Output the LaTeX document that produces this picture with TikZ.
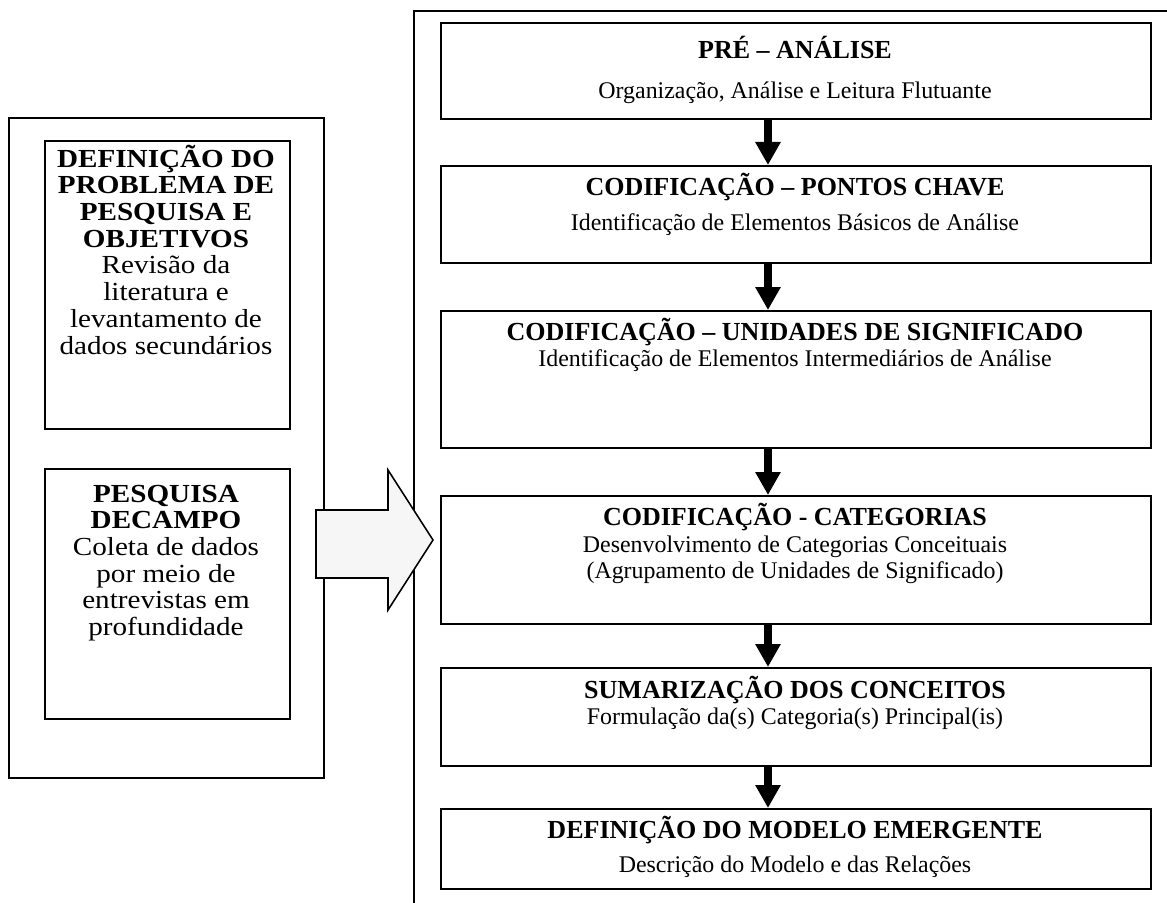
\documentclass[tikz,border=0pt]{standalone}
\usepackage{fontspec}
\setmainfont{Liberation Serif}
\usetikzlibrary{arrows.meta,positioning}

\begin{document}
\begin{tikzpicture}[x=0.025cm, y=-0.025cm, line width=1.1pt,
    box/.style={draw, inner sep=0pt, anchor=north west},
    ttl/.style={font=\fontsize{18.5}{19}\selectfont\bfseries, anchor=base},
    sub/.style={font=\fontsize{17}{19}\selectfont, anchor=base},
    lefttxt/.style={font=\fontsize{18.5}{19}\selectfont, align=center, anchor=north,
      inner sep=0pt, xscale=1.12, transform shape},
    flow/.style={line width=5.5pt, -{Triangle[length=0.575cm, width=0.6cm]}}]
  \clip (0,0) rectangle (1167,903);

  % panel of the analysis
  \node[box, minimum width=20cm, minimum height=24cm] (panel) at (413,10) {};

  % left side
  \node[box, minimum width=7.875cm, minimum height=16.5cm] (prep) at (8,117) {};
  \node[box, minimum width=6.125cm, minimum height=7.2cm] (prob) at (44,140) {};
  \node[box, minimum width=6.125cm, minimum height=6.25cm] (campo) at (44,468) {};
  \node[lefttxt] (probt) at (166,144) {\textbf{DEFINIÇÃO DO}\\\textbf{PROBLEMA DE}\\\textbf{PESQUISA E}\\
    \textbf{OBJETIVOS}\\Revisão da\\literatura e\\levantamento de\\dados secundários};
  \node[lefttxt] (campot) at (166,484) {\textbf{PESQUISA}\\\textbf{DECAMPO}\\Coleta de dados\\por meio de\\
    entrevistas em\\profundidade};

  % big arrow
  \draw[fill=gray!7] (316,510) -- (388,510) -- (388,470) -- (433,540) -- (388,610)
    -- (388,578) -- (316,578) -- cycle;

  % stages
  \node[box, minimum width=17.75cm, minimum height=2.4cm] (pre) at (440,22) {};
  \node[box, minimum width=17.75cm, minimum height=2.425cm] (chave) at (440,165) {};
  \node[box, minimum width=17.75cm, minimum height=3.425cm] (unid) at (440,310) {};
  \node[box, minimum width=17.75cm, minimum height=3.2cm] (cat) at (440,495) {};
  \node[box, minimum width=17.75cm, minimum height=2.45cm] (sum) at (440,667) {};
  \node[box, minimum width=17.75cm, minimum height=2cm] (mod) at (440,808) {};

  \node[ttl] (pret) at (795,58) {PRÉ – ANÁLISE};
  \node[sub] (pres) at (795,98) {Organização, Análise e Leitura Flutuante};
  \node[ttl] (chavet) at (795,195) {CODIFICAÇÃO – PONTOS CHAVE};
  \node[sub] (chaves) at (795,230) {Identificação de Elementos Básicos de Análise};
  \node[ttl] (unidt) at (795,340) {CODIFICAÇÃO – UNIDADES DE SIGNIFICADO};
  \node[sub] (unids) at (795,366) {Identificação de Elementos Intermediários de Análise};
  \node[ttl] (catt) at (795,525) {CODIFICAÇÃO - CATEGORIAS};
  \node[sub] (cats) at (795,552) {Desenvolvimento de Categorias Conceituais};
  \node[sub] (cats2) at (795,578) {(Agrupamento de Unidades de Significado)};
  \node[ttl] (sumt) at (795,698) {SUMARIZAÇÃO DOS CONCEITOS};
  \node[sub] (sums) at (795,724) {Formulação da(s) Categoria(s) Principal(is)};
  \node[ttl] (modt) at (795,838) {DEFINIÇÃO DO MODELO EMERGENTE};
  \node[sub] (mods) at (795,872) {Descrição do Modelo e das Relações};

  % arrows between the stages
  \coordinate (ax) at (768,0);
  \draw[flow] (ax |- pre.south) -- (ax |- chave.north);
  \draw[flow] (ax |- chave.south) -- (ax |- unid.north);
  \draw[flow] (ax |- unid.south) -- (ax |- cat.north);
  \draw[flow] (ax |- cat.south) -- (ax |- sum.north);
  \draw[flow] (ax |- sum.south) -- (ax |- mod.north);
\end{tikzpicture}
\end{document}
